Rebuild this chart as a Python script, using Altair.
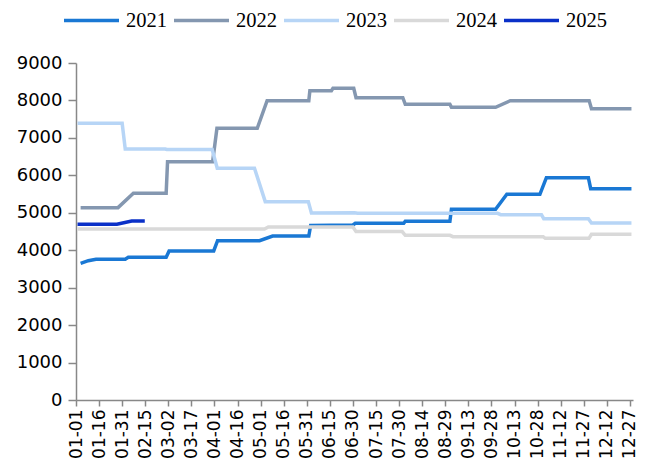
import altair as alt
import pandas as pd

# ---- data (day of year offset, value) ----
years = ["2021", "2022", "2023", "2024", "2025"]
colors = ["#1a78d4", "#8497b0", "#b7d5f6", "#d9d9d9", "#0a30c8"]

d2021 = [3, 8, 13, 32, 34, 58.6, 60.5, 89.5, 92, 119.3, 127.8, 151.3, 152.5, 180, 181.5, 213, 214, 243, 244, 272.7, 280, 301.5, 305.7, 333, 334.5, 361]
v2021 = [3650, 3720, 3757, 3757, 3811, 3811, 3980, 3980, 4255, 4255, 4380, 4380, 4660, 4674, 4718, 4718, 4773, 4773, 5093, 5093, 5493, 5493, 5938, 5938, 5645, 5645]

d2022 = [3, 27.3, 37.3, 58.6, 59.5, 88.8, 91.6, 117.8, 124.2, 151.3, 152, 166, 167, 180.5, 182, 212.4, 214, 243, 244, 272.7, 282.3, 333.5, 335, 361]
v2022 = [5137, 5137, 5520, 5520, 6366, 6366, 7256, 7256, 7995, 7995, 8262, 8262, 8325, 8325, 8075, 8075, 7897, 7897, 7818, 7818, 7995, 7995, 7781, 7781]

d2023 = [1, 30, 32, 58, 59, 88.5, 91.8, 116, 123, 151, 153, 181, 183, 274, 276, 302.5, 304, 333, 335, 361]
v2023 = [7390, 7390, 6704, 6704, 6690, 6690, 6188, 6188, 5297, 5297, 4994, 5000, 4985, 4985, 4950, 4950, 4843, 4843, 4727, 4727]

d2024 = [1, 122.5, 125, 180, 182, 212, 214, 243, 245, 303.6, 305, 333.4, 335, 361]
v2024 = [4567, 4567, 4620, 4620, 4497, 4497, 4399, 4399, 4362, 4362, 4318, 4318, 4425, 4425]

d2025 = [1, 26.6, 36.2, 44.7]
v2025 = [4692, 4692, 4781, 4781]

tick_labels = ["01-01", "01-16", "01-31", "02-15", "03-02", "03-17", "04-01", "04-16",
               "05-01", "05-16", "05-31", "06-15", "06-30", "07-15", "07-30", "08-14",
               "08-29", "09-13", "09-28", "10-13", "10-28", "11-12", "11-27", "12-12", "12-27"]
y_ticks = [0, 1000, 2000, 3000, 4000, 5000, 6000, 7000, 8000, 9000]

# ---- assemble table ----
series = {"2021": (d2021, v2021), "2022": (d2022, v2022), "2023": (d2023, v2023),
          "2024": (d2024, v2024), "2025": (d2025, v2025)}
rows = []
for yr, (ds, vs) in series.items():
    for i, (d, v) in enumerate(zip(ds, vs)):
        rows.append({"year": yr, "day": d, "value": v, "order": i})
df = pd.DataFrame(rows)

base = pd.Timestamp("2021-01-01")
tick_days = [int((pd.Timestamp("2021-" + t) - base).days) for t in tick_labels]
label_expr = "[" + ",".join("'%s'" % t for t in tick_labels) + "][indexof([" + \
    ",".join(str(d) for d in tick_days) + "], datum.value)]"

chart = alt.Chart(df).mark_line(strokeWidth=3.5, strokeCap="butt").encode(
    x=alt.X("day:Q",
            scale=alt.Scale(domain=[0, 362], nice=False, zero=False),
            axis=alt.Axis(values=tick_days, labelExpr=label_expr, labelAngle=270,
                          tickSize=6, labelPadding=3, labelFontSize=17, title=None,
                          labelOverlap=False)),
    y=alt.Y("value:Q",
            scale=alt.Scale(domain=[0, 9000], nice=False),
            axis=alt.Axis(values=y_ticks, format="d", tickSize=8, labelPadding=6,
                          title=None)),
    color=alt.Color("year:N",
                    scale=alt.Scale(domain=years, range=colors),
                    legend=alt.Legend(title=None, orient="none", direction="horizontal",
                                      columns=5, legendX=-14, legendY=-72,
                                      symbolType="stroke", symbolSize=3025,
                                      symbolStrokeWidth=3.5, labelFont="Liberation Serif",
                                      labelFontSize=20.5, labelColor="#000000",
                                      labelOffset=5, columnPadding=0, padding=0)),
    order=alt.Order("order:Q"),
).properties(
    width=557, height=337,
    autosize=alt.AutoSizeParams(type="none"),
    padding={"left": 68, "top": 55, "right": 5, "bottom": 60},
).configure_view(stroke=None).configure_axis(
    grid=False, domainColor="#888888", domainWidth=1.5, tickColor="#888888",
    tickWidth=1.5, labelFont="DejaVu Sans", labelFontSize=18, labelColor="#000000",
)

chart.save("out.html", embed_options={"renderer": "svg", "actions": False})
